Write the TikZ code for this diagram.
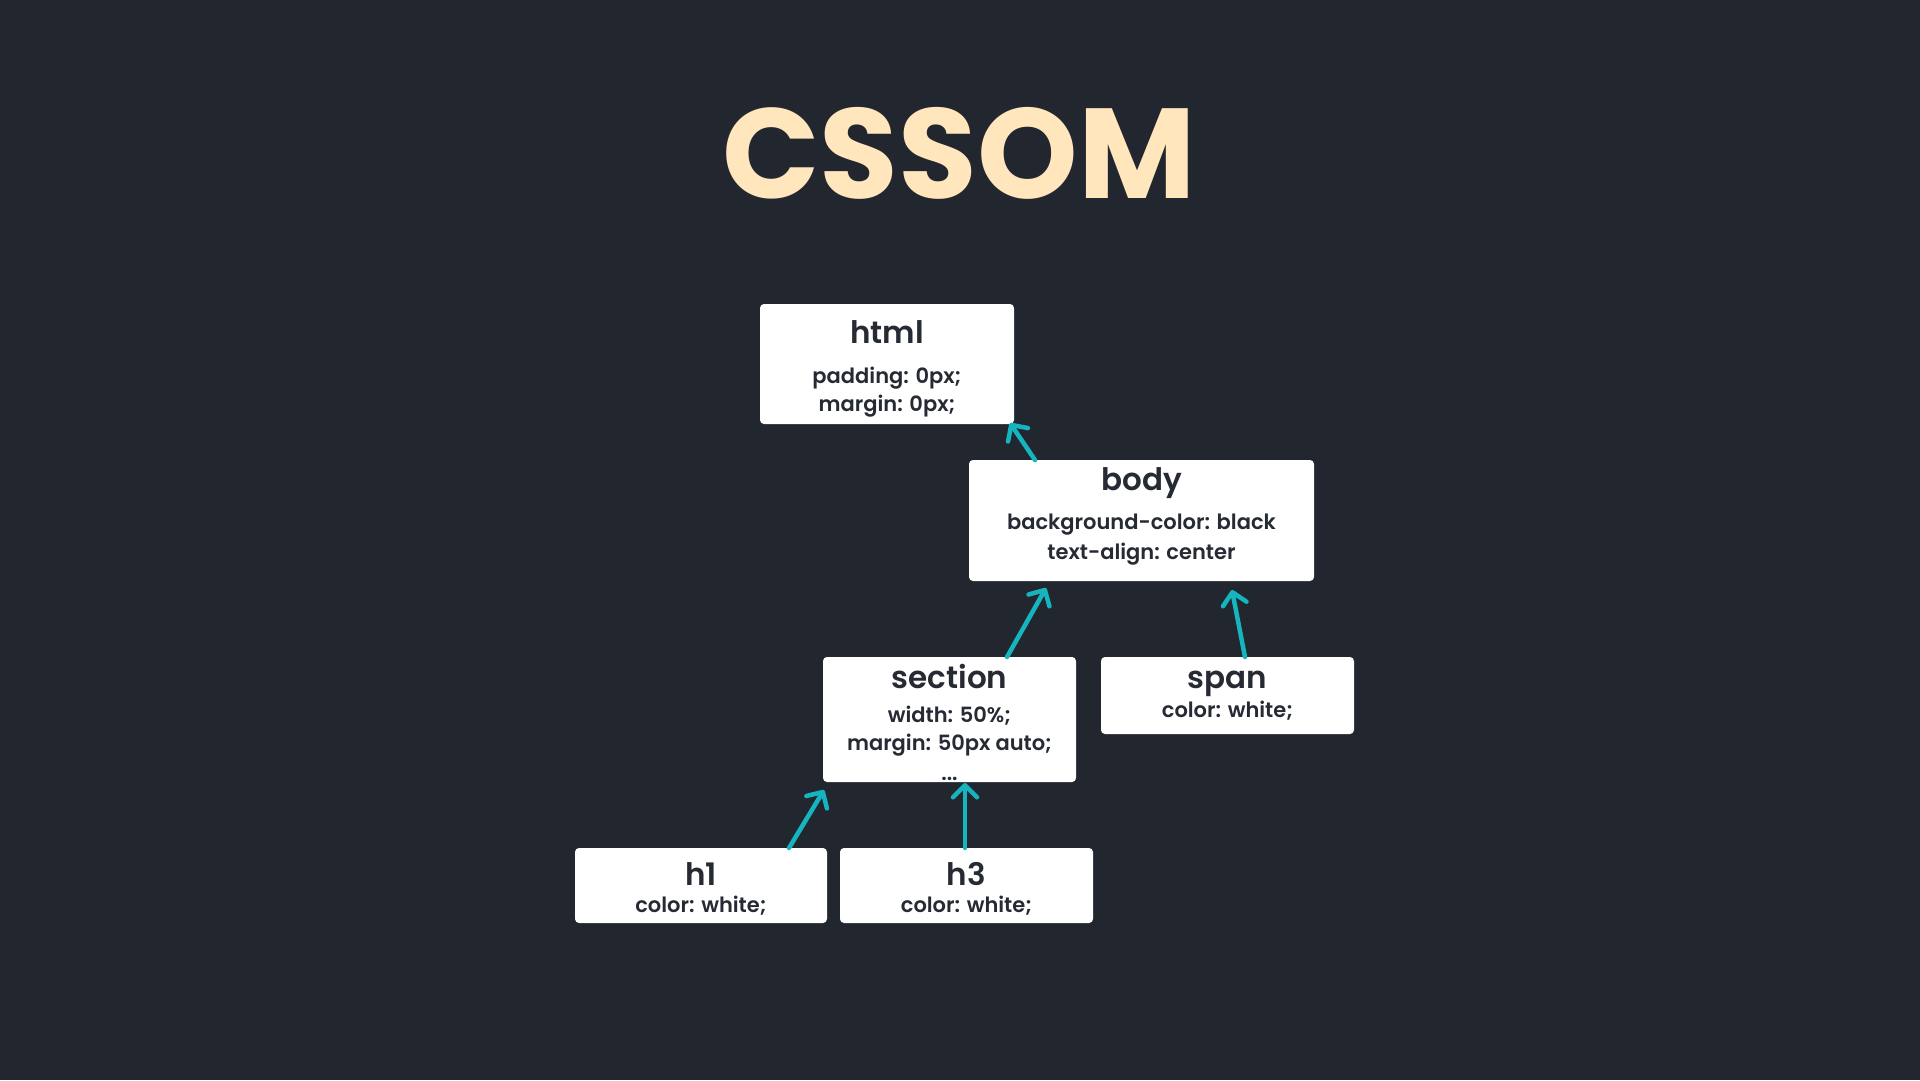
\documentclass[tikz,border=0pt]{standalone}
\usepackage{xcolor}
\usepackage{fontspec}
\usepackage{tikz}
\usetikzlibrary{positioning, calc, arrows.meta}
\setmainfont{Poppins}[UprightFont=* SemiBold, BoldFont=* SemiBold]
\newfontfamily\titlefont{Poppins}[UprightFont=* Bold]
\definecolor{slidebg}{HTML}{22272F}
\definecolor{cream}{HTML}{FFE6BC}
\definecolor{tealarrow}{HTML}{16B4BE}
\definecolor{inkdark}{HTML}{262A33}

\begin{document}
\begin{tikzpicture}[x=1pt, y=-1pt, every node/.style={inner sep=0pt, outer sep=0pt}]
		\tikzstyle{rulebox}=[fill=white, rounded corners=4pt, minimum width=253pt]
		\tikzstyle{selector}=[anchor=base, text=inkdark, font=\fontsize{31}{31}\selectfont\bfseries]
		\tikzstyle{decl}=[anchor=base, text=inkdark, font=\fontsize{21}{21}\selectfont]
		\tikzstyle{link}=[draw=tealarrow, line width=4.5pt, line cap=round, -{Straight Barb[length=12pt, width=24pt, line cap=round, round]}]
		
		%% background of the slide
		\fill[slidebg] (0,0) rectangle (1920,1080);
		\node[anchor=base, text=cream, font=\fontsize{128}{128}\titlefont] (title) at (959,198) {CSSOM};
		
		%% rule boxes
		\node [rulebox, minimum width=254pt, minimum height=120pt] (html) at (887,364) {};
		\node [selector] at ([yshift=-39pt]html.north) {html};
		\node [decl] at ([yshift=-79pt]html.north) {padding: 0px;};
		\node [decl] at ([yshift=-107pt]html.north) {margin: 0px;};
		
		\node [rulebox, minimum width=345pt, minimum height=121pt] (body) at (1141.5,520.5) {};
		\node [selector] at ([yshift=-30pt]body.north) {body};
		\node [decl] at ([yshift=-69pt]body.north) {background-color: black};
		\node [decl] at ([yshift=-99pt]body.north) {text-align: center};
		
		\node [rulebox, minimum height=125pt] (section) at (949.5,719.5) {};
		\node [selector] at ([yshift=-31pt]section.north) {section};
		\node [decl] at ([yshift=-65pt]section.north) {width: 50\%;};
		\node [decl] at ([yshift=-93pt]section.north) {margin: 50px auto;};
		\node [decl] at ([yshift=-123pt]section.north) {...};
		
		\node [rulebox, minimum height=77pt, anchor=north west] (span) at ([xshift=25pt]section.north east) {};
		\node [selector] at ([yshift=-31pt]span.north) {span};
		\node [decl] at ([yshift=-60pt]span.north) {color: white;};
		
		\node [rulebox, minimum width=252pt, minimum height=75pt] (h1) at (701,885.5) {};
		\node [selector] at ([yshift=-37pt]h1.north) {h1};
		\node [decl] at ([yshift=-64pt]h1.north) {color: white;};
		
		\node [rulebox, minimum height=75pt, right=13pt of h1] (h3) {};
		\node [selector] at ([yshift=-37pt]h3.north) {h3};
		\node [decl] at ([yshift=-64pt]h3.north) {color: white;};
		
		%% child -> parent arrows
		\draw [link] ([xshift=66pt]body.north west) -- ([xshift=-4pt,yshift=1pt]html.south east);
		\draw [link] ([xshift=57.5pt]section.north) -- ([xshift=77pt,yshift=-7pt]body.south west);
		\draw [link] ([xshift=17.5pt]span.north) -- ([xshift=-82pt,yshift=-9pt]body.south east);
		\draw [link] ([xshift=88pt]h1.north) -- ([xshift=1pt,yshift=-8pt]section.south west);
		\draw [link] ([xshift=-1.5pt]h3.north) -- ([xshift=-1.5pt,yshift=-1pt]h3.north |- section.south);
		
\end{tikzpicture}
\end{document}
